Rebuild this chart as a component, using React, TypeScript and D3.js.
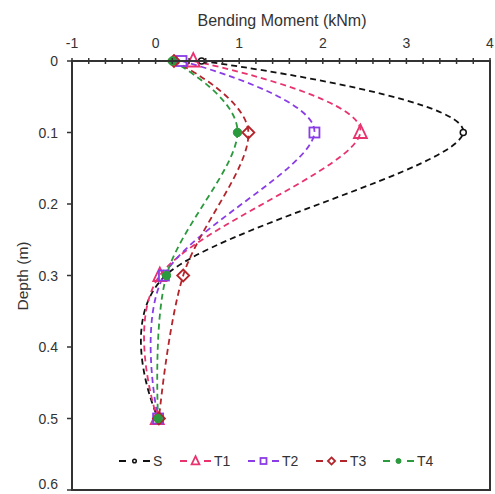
import React from "react";
import * as d3 from "d3";

const depths = [0, 0.1, 0.3, 0.5];
const seriesNames = ["S", "T1", "T2", "T3", "T4"];
const sValues = [0.55, 3.68, 0.12, 0.03];
const t1Values = [0.45, 2.45, 0.05, 0.02];
const t2Values = [0.31, 1.9, 0.1, 0.03];
const t3Values = [0.22, 1.11, 0.33, 0.04];
const t4Values = [0.2, 0.98, 0.13, 0.03];
const seriesColors = ["#111111", "#e8336e", "#8a3ce6", "#b3242b", "#2a9a3c"];
const markerKinds = ["smallCircle", "triangle", "square", "diamond", "dot"];
const xTicks = [-1, 0, 1, 2, 3, 4];
const yTicks = [0, 0.1, 0.2, 0.3, 0.4, 0.5, 0.6];

const W = 495, H = 494;
const L = 72, R = 490, T = 61, B = 490;

function Marker({ kind, x, y, color, s = 1 }: { kind: string; x: number; y: number; color: string; s?: number }) {
  if (kind === "smallCircle")
    return <circle cx={x} cy={y} r={3 * s} fill="white" stroke={color} strokeWidth={1.5} />;
  if (kind === "triangle")
    return (
      <path
        d={`M${x},${y - 8 * s}L${x + 6.5 * s},${y + 5.5 * s}L${x - 6.5 * s},${y + 5.5 * s}Z`}
        fill="none"
        stroke={color}
        strokeWidth={1.8}
      />
    );
  if (kind === "square")
    return <rect x={x - 5 * s} y={y - 5 * s} width={10 * s} height={10 * s} fill="none" stroke={color} strokeWidth={1.8} />;
  if (kind === "diamond")
    return (
      <path
        d={`M${x},${y - 6 * s}L${x + 6 * s},${y}L${x},${y + 6 * s}L${x - 6 * s},${y}Z`}
        fill="none"
        stroke={color}
        strokeWidth={1.8}
      />
    );
  return <circle cx={x} cy={y} r={4.2 * s} fill={color} stroke={color} strokeWidth={1} />;
}

export default function App() {
  const x = d3.scaleLinear().domain([-1, 4]).range([L, R]);
  const y = d3.scaleLinear().domain([0, 0.6]).range([T, B]);
  const all = [sValues, t1Values, t2Values, t3Values, t4Values];
  const line = d3
    .line<[number, number]>()
    .x((d) => x(d[0]))
    .y((d) => y(d[1]))
    .curve(d3.curveCatmullRom.alpha(0));
  const minor = d3.range(-1, 4.001, 0.2);
  const font = "Liberation Sans, Arial, sans-serif";
  const legendX = [119, 180, 248, 316, 383];
  const legendY = 461;
  return (
    <svg width={W} height={H} style={{ position: "absolute", left: 0, top: 0 }} fontFamily={font}>
      <rect x={0} y={0} width={W} height={H} fill="white" />
      {all.map((vals, i) => (
        <path
          key={i}
          d={line(vals.map((v, j) => [v, depths[j]] as [number, number])) || ""}
          fill="none"
          stroke={seriesColors[i]}
          strokeWidth={1.8}
          strokeDasharray="6,4"
        />
      ))}
      {all.map((vals, i) =>
        vals.map((v, j) => (
          <Marker key={`${i}-${j}`} kind={markerKinds[i]} x={x(v)} y={y(depths[j])} color={seriesColors[i]} />
        ))
      )}
      <rect x={L} y={T} width={R - L} height={B - T} fill="none" stroke="#333" strokeWidth={2} />
      {minor.map((t, i) => (
        <line key={i} x1={x(t)} x2={x(t)} y1={T - 3} y2={T + 3} stroke="#333" strokeWidth={1.5} />
      ))}
      {xTicks.map((t) => (
        <text key={t} x={x(t)} y={48} textAnchor="middle" fontSize={14} fill="#333">
          {t}
        </text>
      ))}
      {yTicks.map((t) => (
        <g key={t}>
          <line x1={L - 5} x2={L} y1={y(t)} y2={y(t)} stroke="#333" strokeWidth={1.5} />
          <text x={L - 14} y={Math.min(y(t) + 5, 489)} textAnchor="end" fontSize={14} fill="#333">
            {String(t)}
          </text>
        </g>
      ))}
      <text x={282} y={26} textAnchor="middle" fontSize={16} fill="#333">
        Bending Moment (kNm)
      </text>
      <text transform={`translate(28,276) rotate(-90)`} textAnchor="middle" fontSize={15.5} fill="#333">
        Depth (m)
      </text>
      {seriesNames.map((n, i) => (
        <g key={n}>
          <line x1={legendX[i]} x2={legendX[i] + 7} y1={legendY} y2={legendY} stroke={seriesColors[i]} strokeWidth={2} />
          <line x1={legendX[i] + 24} x2={legendX[i] + 31} y1={legendY} y2={legendY} stroke={seriesColors[i]} strokeWidth={2} />
          <Marker kind={markerKinds[i]} x={legendX[i] + 15.5} y={legendY} color={seriesColors[i]} s={0.6} />
          <text x={legendX[i] + 34} y={legendY + 5} fontSize={14} fill="#333">
            {n}
          </text>
        </g>
      ))}
    </svg>
  );
}
